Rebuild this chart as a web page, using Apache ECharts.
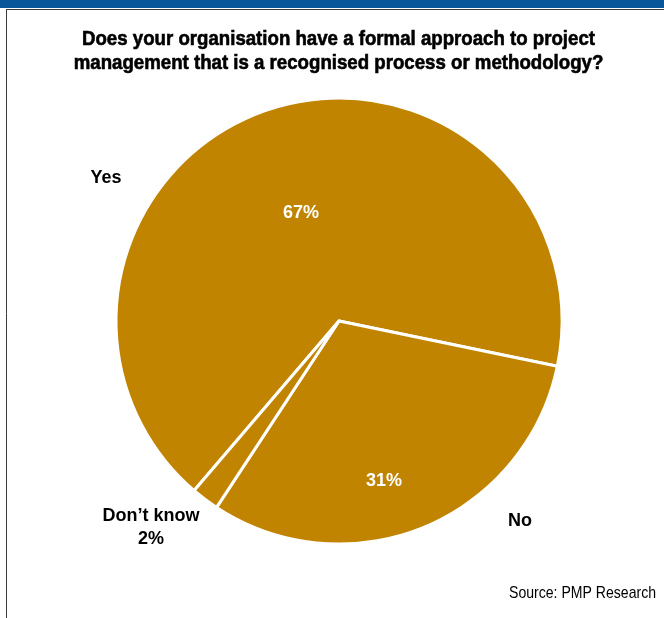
<!DOCTYPE html>
<html>
<head>
<meta charset="utf-8">
<script src="https://cdn.jsdelivr.net/npm/echarts@6/dist/echarts.min.js"></script>
<style>
html,body{margin:0;padding:0;background:#fff;}
#chart{width:664px;height:618px;}
</style>
</head>
<body>
<div id="chart"></div>
<script>
const categories = ['Yes', 'No', "Don\u2019t know"];
const values = [67, 31, 2];
const titleLines = ['Does your organisation have a formal approach to project', 'management that is a recognised process or methodology?'];
const sourceText = 'Source: PMP Research';

const NARROW = '"Roboto Condensed", "Liberation Sans Narrow", "Arial Narrow", sans-serif';
const SANS = '"Liberation Sans", Arial, sans-serif';
const GOLD = '#c18400';

// label placements (layout only)
const insidePos = { 'Yes': [301, 213], 'No': [384, 481] };
const outsidePos = { 'Yes': [106, 178], 'No': [520, 521], "Don\u2019t know": [151, 528] };

const data = categories.map((c, i) => ({ name: c, value: values[i] }));

// horizontal condensing of the bold title / source to match the reference widths
const ctx = document.createElement('canvas').getContext('2d');
const titleFont = 'bold 20px ' + SANS;
ctx.font = titleFont;
const titleScaleX = 513 / ctx.measureText(titleLines[0]).width;
const sourceFont = '17px ' + SANS;
ctx.font = sourceFont;
const sourceScaleX = 147 / ctx.measureText(sourceText).width;

const chart = echarts.init(document.getElementById('chart'), null, { renderer: 'canvas' });
chart.setOption({
  backgroundColor: '#ffffff',
  animation: false,
  graphic: [
    { type: 'rect', shape: { x: 0, y: 0, width: 664, height: 8 }, style: { fill: '#0a569b' } },
    { type: 'line', shape: { x1: 6, y1: 9.5, x2: 664, y2: 9.5 }, style: { stroke: '#3a3a3a', lineWidth: 1 } },
    { type: 'line', shape: { x1: 6.5, y1: 9, x2: 6.5, y2: 618 }, style: { stroke: '#3a3a3a', lineWidth: 1 } },
    { type: 'text', x: 338.5, y: 27, scaleX: titleScaleX,
      style: { text: titleLines.join('\n'), font: titleFont, lineHeight: 24, fill: '#000',
               stroke: '#000', lineWidth: 0.6, align: 'center', verticalAlign: 'top' } },
    { type: 'text', x: 656, y: 593, scaleX: sourceScaleX,
      style: { text: sourceText, font: sourceFont, fill: '#000', align: 'right', verticalAlign: 'middle' } }
  ],
  series: [
    {
      type: 'pie',
      center: [339, 321],
      radius: [0, 223],
      startAngle: -130.5,
      clockwise: true,
      silent: true,
      itemStyle: { color: GOLD, borderColor: '#fff', borderWidth: 3 },
      label: {
        show: true, position: 'inside',
        formatter: p => p.name === "Don\u2019t know" ? '' : p.value + '%',
        color: '#fff', fontFamily: SANS, fontWeight: 'bold', fontSize: 18
      },
      labelLine: { show: false },
      labelLayout: p => {
        const pos = insidePos[categories[p.dataIndex]];
        return pos ? { x: pos[0], y: pos[1], align: 'center', verticalAlign: 'middle' } : {};
      },
      data: data
    },
    {
      type: 'pie',
      center: [339, 321],
      radius: [0, 223],
      startAngle: -130.5,
      clockwise: true,
      silent: true,
      itemStyle: { color: 'transparent', borderWidth: 0 },
      label: {
        show: true, position: 'outside',
        formatter: p => p.name === "Don\u2019t know" ? p.name + '\n' + p.value + '%' : p.name,
        color: '#000', fontFamily: SANS, fontWeight: 'bold', fontSize: 18, lineHeight: 23, align: 'center'
      },
      labelLine: { show: false },
      labelLayout: p => {
        const pos = outsidePos[categories[p.dataIndex]];
        return { x: pos[0], y: pos[1], align: 'center', verticalAlign: 'middle' };
      },
      data: data
    }
  ]
});
</script>
</body>
</html>
